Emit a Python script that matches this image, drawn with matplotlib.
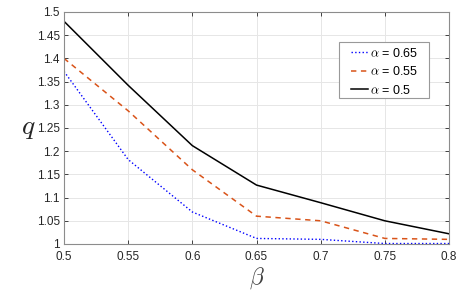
import numpy as np
import matplotlib.pyplot as plt
from matplotlib.patches import Rectangle

beta = [0.5, 0.55, 0.6, 0.65, 0.7, 0.75, 0.8]
q_065 = [1.372, 1.182, 1.069, 1.012, 1.010, 1.001, 1.001]
q_055 = [1.400, 1.287, 1.160, 1.060, 1.050, 1.012, 1.010]
q_050 = [1.480, 1.342, 1.212, 1.127, 1.089, 1.050, 1.022]

plt.rcParams['font.family'] = ['Liberation Sans', 'DejaVu Sans']
plt.rcParams['mathtext.fontset'] = 'cm'

fig = plt.figure(figsize=(4.71, 2.92), dpi=100)
ax = fig.add_axes([64 / 471, 1 - 244 / 292, (449 - 64) / 471, (244 - 12) / 292])

ax.plot(beta, q_065, color=(0, 0, 1), linestyle=':', linewidth=1.0, label=r'$\alpha$ = 0.65')
ax.plot(beta, q_055, color=(0.85, 0.325, 0.098), linestyle=(0, (3.5, 3)), linewidth=1.1, label=r'$\alpha$ = 0.55')
ax.plot(beta, q_050, color='black', linestyle='-', linewidth=1.1, label=r'$\alpha$ = 0.5')

ax.set_xlim(0.5, 0.8)
ax.set_ylim(1, 1.5)
ax.set_xticks(beta)
ax.set_xticklabels(['0.5', '0.55', '0.6', '0.65', '0.7', '0.75', '0.8'])
ax.set_yticks(np.arange(1, 1.501, 0.05))
ax.set_yticklabels(['1', '1.05', '1.1', '1.15', '1.2', '1.25', '1.3', '1.35', '1.4', '1.45', '1.5'])
ax.grid(True, color='#e6e6e6', linewidth=0.7)
ax.set_axisbelow(True)
ax.tick_params(direction='in', length=3, width=0.6, colors='#262626', labelsize=8.5,
               top=True, right=True)
ax.tick_params(axis='x', pad=5)
ax.tick_params(axis='y', pad=3)
for s in ax.spines.values():
    s.set_color('#8c8c8c')
    s.set_linewidth(0.8)

ax.set_xlabel(r'$\beta$', fontsize=17, color='#404040', labelpad=2)
ax.set_ylabel(r'$q$', fontsize=20, color='#262626', rotation=0, labelpad=6, va='center')

# legend box drawn by hand (MATLAB style padding)
ax.add_patch(Rectangle((0.715, 0.631), 0.234, 0.238, transform=ax.transAxes,
                       facecolor='white', edgecolor='#999999', linewidth=0.8, zorder=5))
leg = ax.legend(loc='upper left', bbox_to_anchor=(0.745, 0.851), fontsize=9,
                handlelength=1.35, handletextpad=0.2, borderpad=0, labelspacing=0.45,
                borderaxespad=0, frameon=False)
leg.set_zorder(6)

fig.savefig('out.png', dpi=100)
